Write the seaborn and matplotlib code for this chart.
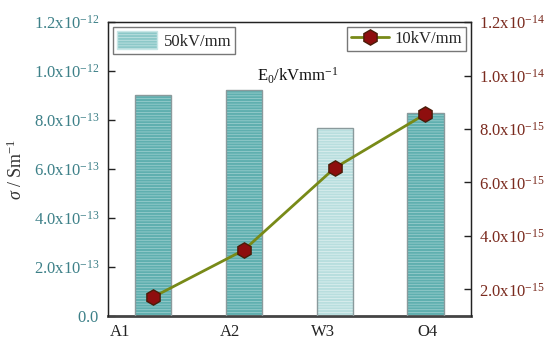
import numpy as np
import pandas as pd
import seaborn as sns
import matplotlib.pyplot as plt
from matplotlib.patches import Patch, Rectangle
from matplotlib.lines import Line2D

# data
samples = ['A1', 'A2', 'W3', 'O4']
sigma_50 = [9.02e-13, 9.22e-13, 7.67e-13, 8.29e-13]     # bars, left axis
sigma_10 = [1.71e-15, 3.47e-15, 6.54e-15, 8.56e-15]     # line, right axis
bar_colors = ['#5fafaf', '#5fafaf', '#b8dede', '#5fafaf']
hatch_colors = ['#a2d2d2', '#a2d2d2', '#e2f2f2', '#a2d2d2']
left_ticks = [0.0, 2e-13, 4e-13, 6e-13, 8e-13, 1.0e-12, 1.2e-12]
left_labels = ['0.0', '2.0x10^{-13}', '4.0x10^{-13}', '6.0x10^{-13}', '8.0x10^{-13}',
               '1.0x10^{-12}', '1.2x10^{-12}']
right_ticks = [2e-15, 4e-15, 6e-15, 8e-15, 1.0e-14, 1.2e-14]
right_labels = ['2.0x10^{-15}', '4.0x10^{-15}', '6.0x10^{-15}', '8.0x10^{-15}',
                '1.0x10^{-14}', '1.2x10^{-14}']
label_pos = [-0.36, 0.85, 1.87, 3.02]

sns.set_style('white')
plt.rcParams['font.family'] = ['Liberation Serif', 'DejaVu Serif']
plt.rcParams['mathtext.fontset'] = 'custom'
plt.rcParams['mathtext.rm'] = 'Liberation Serif'
plt.rcParams['mathtext.it'] = 'Liberation Serif:italic'
plt.rcParams['hatch.linewidth'] = 0.5

df = pd.DataFrame({'sample': samples, 'sigma': sigma_50})

fig = plt.figure(figsize=(5.5, 3.45), dpi=100)
ax = fig.add_axes([0.196, 0.084, 0.66, 0.852])

sns.barplot(data=df, x='sample', y='sigma', hue='sample', palette=bar_colors,
            width=0.4, legend=False, ax=ax, saturation=1)
for p, fc, hc in zip(ax.patches, bar_colors, hatch_colors):
    p.set_facecolor(fc)
    p.set_hatch('------')
    p.set_edgecolor(hc)
    p.set_linewidth(0)
    ax.add_patch(Rectangle((p.get_x(), p.get_y()), p.get_width(), p.get_height(),
                           fill=False, edgecolor='#8a9a9c', linewidth=1.0, zorder=3))

ax.set_xlim(-0.5, 3.5)
ax.set_ylim(0, 1.2e-12)
ax.set_yticks(left_ticks)
ax.set_yticklabels(['$\\mathrm{' + s + '}$' for s in left_labels], color='#3d8088', fontsize=12)
ax.set_xticks(label_pos)
ax.set_xticklabels(samples, fontsize=12, color='#222222')
ax.tick_params(axis='x', length=0, pad=6)
ax.tick_params(axis='y', direction='in', length=5, width=1, color='#222222', left=True, pad=6)
ax.set_xlabel('')
ax.set_ylabel('$\\sigma\\ /\\ \\mathrm{Sm^{-1}}$', fontsize=13, color='#333333', labelpad=6)
for s in ['left', 'right', 'top']:
    ax.spines[s].set_color('#222222')
    ax.spines[s].set_linewidth(1.0)
ax.spines['bottom'].set_color('#444444')
ax.spines['bottom'].set_linewidth(2.0)

ax2 = ax.twinx()
sns.lineplot(x=np.arange(len(samples)), y=sigma_10, ax=ax2, color='#788a18', linewidth=2,
             marker='h', markersize=11, markerfacecolor='#8e0e0e', markeredgecolor='#4a1c08',
             markeredgewidth=1)
ax2.set_ylim(1e-15, 1.2e-14)
ax2.set_yticks(right_ticks)
ax2.set_yticklabels(['$\\mathrm{' + s + '}$' for s in right_labels], color='#7a2a1e', fontsize=12)
ax2.tick_params(axis='y', direction='in', length=5, width=1, color='#222222', right=True, pad=6)
ax2.set_xlim(-0.5, 3.5)
for s in ['left', 'right', 'top']:
    ax2.spines[s].set_color('#222222')
ax2.spines['bottom'].set_visible(False)

ax.text(0.41, 0.80, '$\\mathrm{E_0/kVmm^{-1}}$', transform=ax.transAxes, fontsize=12, color='#111111')

leg1 = ax.legend(handles=[Patch(facecolor='#8cc8c8', edgecolor='#c8e6e6', hatch='------')],
                 labels=['50kV/mm'], loc='upper left', fontsize=12, frameon=True, fancybox=False,
                 edgecolor='#555555', borderaxespad=0.3, handlelength=2.4, handleheight=1.3,
                 handletextpad=0.4, borderpad=0.25)
leg1.get_frame().set_linewidth(1.0)
leg1.set_zorder(5)
leg2 = ax2.legend(handles=[Line2D([], [], color='#788a18', linewidth=2, marker='h', markersize=11,
                                  markerfacecolor='#8e0e0e', markeredgecolor='#4a1c08')],
                  labels=['10kV/mm'], loc='upper right', fontsize=12, frameon=True, fancybox=False,
                  edgecolor='#555555', borderaxespad=0.3, handlelength=2.3,
                  handletextpad=0.3, borderpad=0.25)
leg2.get_frame().set_linewidth(1.0)

fig.savefig('out.png', dpi=100)
